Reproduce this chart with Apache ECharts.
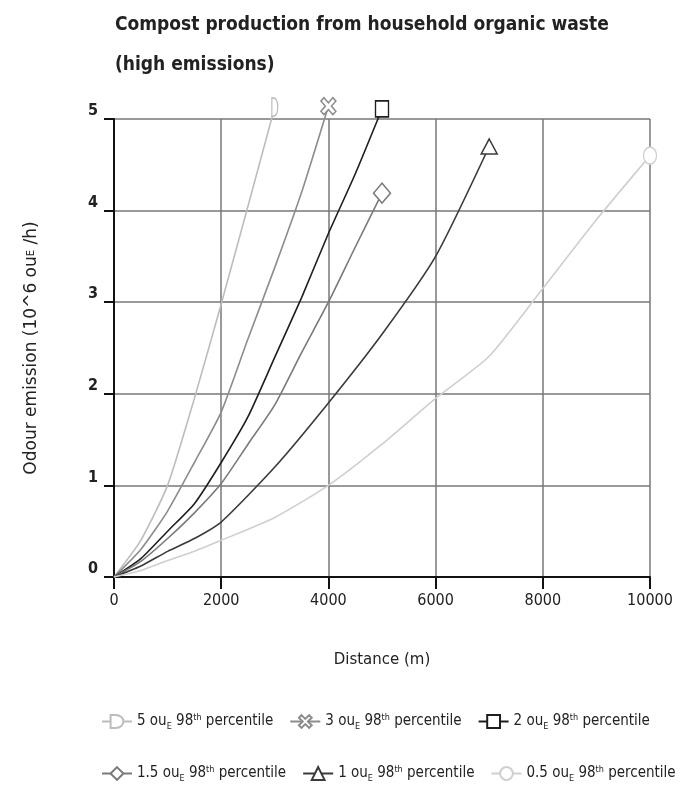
<!DOCTYPE html>
<html lang="en">
<head>
<meta charset="UTF-8">
<title>Compost production - odour emission</title>
<style>
  html, body { margin: 0; padding: 0; background: #fff; }
  #chart { width: 692px; height: 785px; }
</style>
</head>
<body>
<div id="chart"></div>
<script src="https://cdn.jsdelivr.net/npm/echarts@6/dist/echarts.min.js"></script>
<script>
// odour concentration levels (ou_E, 98th percentile)
var levels = ['5', '3', '2', '1.5', '1', '0.5'];

// distance (m) / emission (10^6 ou_E/h) pairs
var dist5 = [0, 500, 1000, 1500, 2000, 2500, 3000];
var emis5 = [0, 0.4, 1.0, 1.95, 2.98, 4.05, 5.13];

var dist3 = [0, 500, 1000, 1500, 2000, 2500, 3000, 3500, 4000];
var emis3 = [0, 0.3, 0.72, 1.25, 1.8, 2.6, 3.38, 4.2, 5.14];

var dist2 = [0, 500, 1000, 1500, 2000, 2500, 3000, 3500, 4000, 4500, 5000];
var emis2 = [0, 0.2, 0.5, 0.8, 1.25, 1.75, 2.4, 3.05, 3.75, 4.4, 5.11];

var dist15 = [0, 500, 1000, 1500, 2000, 2500, 3000, 3500, 4000, 4500, 5000];
var emis15 = [0, 0.17, 0.42, 0.7, 1.02, 1.45, 1.88, 2.45, 3.0, 3.6, 4.19];

var dist1 = [0, 500, 1000, 1500, 2000, 3000, 4000, 5000, 6000, 7000];
var emis1 = [0, 0.12, 0.28, 0.42, 0.6, 1.2, 1.9, 2.65, 3.5, 4.7];

var dist05 = [0, 500, 1000, 1500, 2000, 3000, 4000, 5000, 6000, 7000, 8000, 9000, 10000];
var emis05 = [0, 0.07, 0.18, 0.28, 0.4, 0.65, 1.0, 1.45, 1.95, 2.41, 3.15, 3.9, 4.6];

var xTicks = [0, 2000, 4000, 6000, 8000, 10000];
var yTicks = [0, 1, 2, 3, 4, 5];

var lineColors = ['#bdbdbd', '#8c8c8c', '#1e1e1e', '#7a7a7a', '#3a3a3a', '#cfcfcf'];
var symbols = [
  'path://M0,0 L4,0 C13,0 13,20 4,20 L0,20 Z',
  'path://M2,0 L5,3 L8,0 L10,2 L7,5 L10,8 L8,10 L5,7 L2,10 L0,8 L3,5 L0,2 Z',
  'rect',
  'diamond',
  'triangle',
  'circle'
];
var symbolSizes = [[11, 18], [15, 17], [13, 16], [17, 20], [16, 15], [13, 17]];

var distances = [dist5, dist3, dist2, dist15, dist1, dist05];
var emissions = [emis5, emis3, emis2, emis15, emis1, emis05];

function seriesName(v) {
  return v + ' ou_E 98th percentile';
}

function legendLabel(name) {
  var v = name.split(' ')[0];
  return v + ' ou{sub|E} 98{sup|th} percentile';
}

var textFont = '"DejaVu Sans Condensed", "Liberation Sans Narrow", "Liberation Sans", sans-serif';
var wideFont = '"DejaVu Sans", "Liberation Sans", sans-serif';

var series = levels.map(function (v, i) {
  var pts = distances[i].map(function (d, k) { return [d, emissions[i][k]]; });
  return {
    name: seriesName(v),
    type: 'line',
    data: pts,
    clip: false,
    smooth: 0.2,
    symbol: symbols[i],
    symbolKeepAspect: true,
    showSymbol: true,
    showAllSymbol: true,
    lineStyle: { color: lineColors[i], width: 1.6 },
    itemStyle: { color: '#fff', borderColor: lineColors[i], borderWidth: 1.5 },
    symbolSize: function (val, p) {
      return p.dataIndex === pts.length - 1 ? symbolSizes[i] : 0;
    },
    z: 3
  };
});

var legendRich = {
  sub: { fontSize: 9, padding: [10, 0, 0, 0], fontFamily: textFont, color: '#222' },
  sup: { fontSize: 9, padding: [0, 0, 8, 0], fontFamily: textFont, color: '#222' }
};

var legendBase = {
  orient: 'horizontal',
  itemWidth: 30,
  itemHeight: 16,
  itemGap: 16,
  formatter: legendLabel,
  textStyle: { fontSize: 15, color: '#222', fontFamily: textFont, rich: legendRich }
};

var myChart = echarts.init(document.getElementById('chart'));
var option = {
  backgroundColor: '#fff',
  animation: false,
  title: {
    text: 'Compost production from household organic waste\n(high emissions)',
    left: 110,
    top: 0,
    textStyle: {
      fontSize: 19,
      fontWeight: 'bold',
      color: '#222',
      lineHeight: 40,
      fontFamily: textFont
    }
  },
  legend: [
    Object.assign({}, legendBase, {
      left: 96, top: 708,
      data: levels.slice(0, 3).map(seriesName)
    }),
    Object.assign({}, legendBase, {
      left: 96, top: 760,
      data: levels.slice(3).map(seriesName)
    })
  ],
  grid: { left: 114, right: 42, top: 119, bottom: 208 },
  xAxis: {
    type: 'value',
    min: xTicks[0],
    max: xTicks[xTicks.length - 1],
    interval: 2000,
    name: 'Distance (m)',
    nameLocation: 'middle',
    nameGap: 76,
    nameTextStyle: { fontSize: 15, color: '#222', fontFamily: wideFont },
    axisLine: { lineStyle: { color: '#111', width: 2 } },
    axisTick: { show: true, length: 12, lineStyle: { color: '#111', width: 2 } },
    axisLabel: {
      fontSize: 16, color: '#222', margin: 16, fontFamily: textFont,
      formatter: function (v) { return String(v); }
    },
    splitLine: { show: true, lineStyle: { color: '#777', width: 1.5 } }
  },
  yAxis: {
    type: 'value',
    min: yTicks[0],
    max: yTicks[yTicks.length - 1],
    interval: 1,
    name: 'Odour emission (10^6 ou{sub|E} /h)',
    nameLocation: 'middle',
    nameGap: 74,
    nameRotate: 90,
    nameTextStyle: {
      fontSize: 17, color: '#222', fontFamily: wideFont,
      rich: { sub: { fontSize: 10, fontFamily: wideFont, color: '#222' } }
    },
    axisLine: { show: true, lineStyle: { color: '#111', width: 2 } },
    axisTick: { show: true, length: 10, lineStyle: { color: '#111', width: 2 } },
    axisLabel: { fontSize: 16, fontWeight: 'bold', color: '#222', margin: 16, verticalAlign: 'bottom', fontFamily: textFont },
    splitLine: { show: true, lineStyle: { color: '#777', width: 1.5 } }
  },
  series: series
};
myChart.setOption(option);
</script>
</body>
</html>
